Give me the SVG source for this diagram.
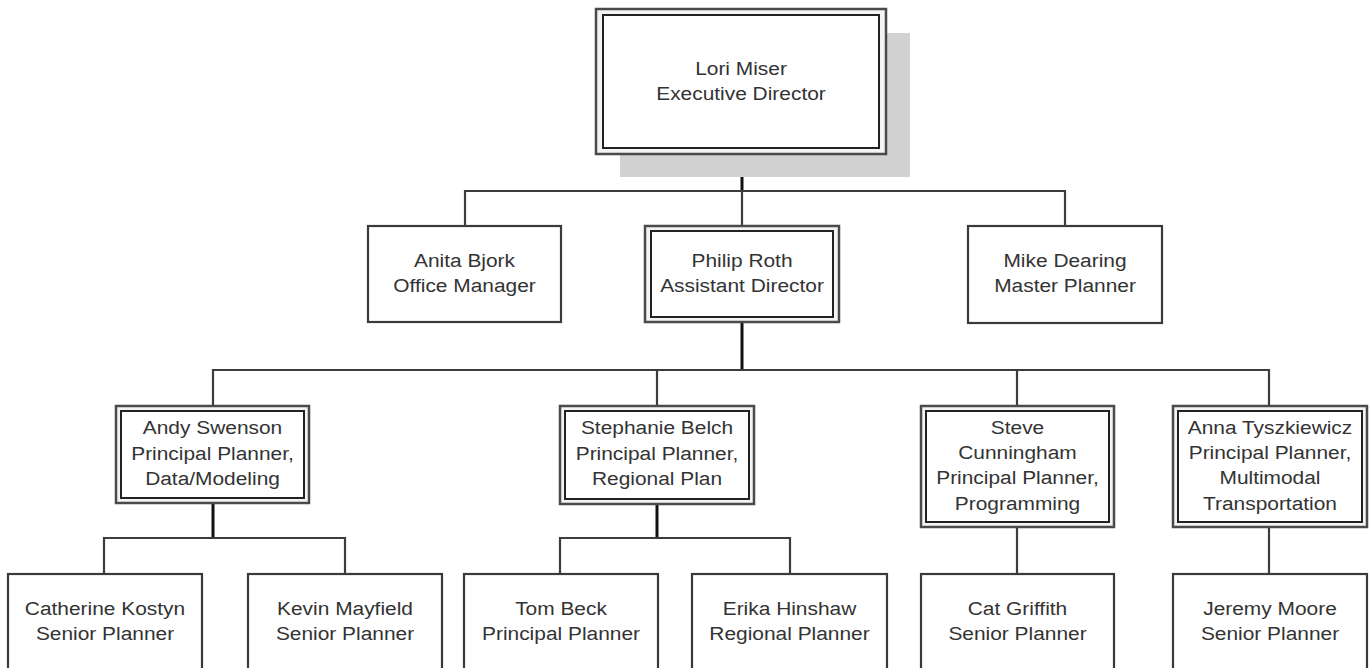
<svg xmlns="http://www.w3.org/2000/svg" width="1369" height="668" viewBox="0 0 1369 668">
<style>
.box{fill:#fff;stroke:#3a3a3a;stroke-width:2.2}
.outer{fill:#f4f4f4;stroke:#4a4a4a;stroke-width:2.5}
.inner{fill:#fff;stroke:#222;stroke-width:2}
.ln{fill:none;stroke:#3c3c3c;stroke-width:2.2}
.thick{fill:none;stroke:#111;stroke-width:3}
text{font-family:"Liberation Sans",Arial,sans-serif;font-size:19px;fill:#333;text-anchor:middle}
</style>
<rect x="0" y="0" width="1369" height="668" fill="#fff"/>
<g id="connectors">
<path class="thick" d="M742 154V191"/>
<path class="ln" d="M465 226V191H1065V226M742 191V226"/>
<path class="thick" d="M742 322V370"/>
<path class="ln" d="M213 406V370H1269V406M657 370V406M1017 370V406"/>
<path class="thick" d="M213 503V538M657 504V538"/>
<path class="ln" d="M104 574V538H345V574M560 574V538H790V574"/>
<path class="ln" d="M1017 527V574M1269 527V574"/>
</g>
<g id="lori">
<rect x="620" y="33" width="290" height="144" fill="#d2d2d2"/>
<rect class="outer" x="596" y="9" width="290" height="145"/>
<rect class="inner" x="603" y="15" width="276" height="133"/>
<text transform="translate(741 0) scale(1.1 1)" y="75">Lori Miser</text>
<text transform="translate(741 0) scale(1.1 1)" y="100">Executive Director</text>
</g>
<g id="anita">
<rect class="box" x="368" y="226" width="193" height="96"/>
<text transform="translate(464.5 0) scale(1.1 1)" y="267">Anita Bjork</text>
<text transform="translate(464.5 0) scale(1.1 1)" y="292">Office Manager</text>
</g>
<g id="philip">
<rect class="outer" x="645" y="226" width="194" height="96"/>
<rect class="inner" x="651" y="231" width="182" height="86"/>
<text transform="translate(742 0) scale(1.1 1)" y="267">Philip Roth</text>
<text transform="translate(742 0) scale(1.1 1)" y="292">Assistant Director</text>
</g>
<g id="mike">
<rect class="box" x="968" y="226" width="194" height="97"/>
<text transform="translate(1065 0) scale(1.1 1)" y="267">Mike Dearing</text>
<text transform="translate(1065 0) scale(1.1 1)" y="292">Master Planner</text>
</g>
<g id="andy">
<rect class="outer" x="116" y="406" width="193" height="97"/>
<rect class="inner" x="121" y="411" width="183" height="87"/>
<text transform="translate(212.5 0) scale(1.1 1)" y="434">Andy Swenson</text>
<text transform="translate(212.5 0) scale(1.1 1)" y="460">Principal Planner,</text>
<text transform="translate(212.5 0) scale(1.1 1)" y="485">Data/Modeling</text>
</g>
<g id="stephanie">
<rect class="outer" x="560" y="406" width="194" height="98"/>
<rect class="inner" x="565" y="411" width="184" height="88"/>
<text transform="translate(657 0) scale(1.1 1)" y="434">Stephanie Belch</text>
<text transform="translate(657 0) scale(1.1 1)" y="460">Principal Planner,</text>
<text transform="translate(657 0) scale(1.1 1)" y="485">Regional Plan</text>
</g>
<g id="steve">
<rect class="outer" x="921" y="406" width="193" height="121"/>
<rect class="inner" x="926" y="411" width="183" height="111"/>
<text transform="translate(1017.5 0) scale(1.1 1)" y="434">Steve</text>
<text transform="translate(1017.5 0) scale(1.1 1)" y="459">Cunningham</text>
<text transform="translate(1017.5 0) scale(1.1 1)" y="484">Principal Planner,</text>
<text transform="translate(1017.5 0) scale(1.1 1)" y="510">Programming</text>
</g>
<g id="anna">
<rect class="outer" x="1173" y="406" width="194" height="121"/>
<rect class="inner" x="1178" y="411" width="184" height="111"/>
<text transform="translate(1270 0) scale(1.1 1)" y="434">Anna Tyszkiewicz</text>
<text transform="translate(1270 0) scale(1.1 1)" y="459">Principal Planner,</text>
<text transform="translate(1270 0) scale(1.1 1)" y="484">Multimodal</text>
<text transform="translate(1270 0) scale(1.1 1)" y="510">Transportation</text>
</g>
<g id="catherine">
<rect class="box" x="8" y="574" width="194" height="110"/>
<text transform="translate(105 0) scale(1.1 1)" y="615">Catherine Kostyn</text>
<text transform="translate(105 0) scale(1.1 1)" y="640">Senior Planner</text>
</g>
<g id="kevin">
<rect class="box" x="248" y="574" width="194" height="110"/>
<text transform="translate(345 0) scale(1.1 1)" y="615">Kevin Mayfield</text>
<text transform="translate(345 0) scale(1.1 1)" y="640">Senior Planner</text>
</g>
<g id="tom">
<rect class="box" x="464" y="574" width="194" height="110"/>
<text transform="translate(561 0) scale(1.1 1)" y="615">Tom Beck</text>
<text transform="translate(561 0) scale(1.1 1)" y="640">Principal Planner</text>
</g>
<g id="erika">
<rect class="box" x="692" y="574" width="195" height="110"/>
<text transform="translate(789.5 0) scale(1.1 1)" y="615">Erika Hinshaw</text>
<text transform="translate(789.5 0) scale(1.1 1)" y="640">Regional Planner</text>
</g>
<g id="cat">
<rect class="box" x="921" y="574" width="193" height="110"/>
<text transform="translate(1017.5 0) scale(1.1 1)" y="615">Cat Griffith</text>
<text transform="translate(1017.5 0) scale(1.1 1)" y="640">Senior Planner</text>
</g>
<g id="jeremy">
<rect class="box" x="1173" y="574" width="194" height="110"/>
<text transform="translate(1270 0) scale(1.1 1)" y="615">Jeremy Moore</text>
<text transform="translate(1270 0) scale(1.1 1)" y="640">Senior Planner</text>
</g>
</svg>
